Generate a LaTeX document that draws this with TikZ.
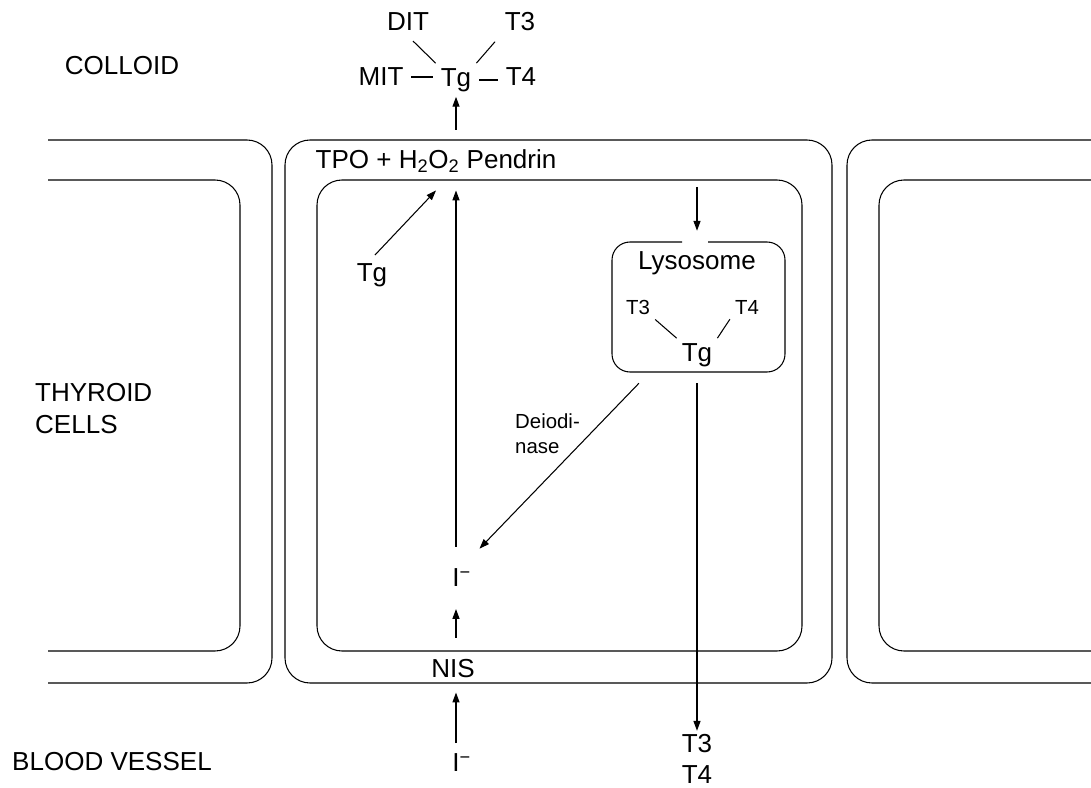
\documentclass[tikz,border=0pt]{standalone}
\usepackage{fontspec}
\setmainfont{Liberation Sans}
\usetikzlibrary{arrows.meta}

\begin{document}
\begin{tikzpicture}[x=0.025cm,y=-0.025cm,line width=0.75pt,
    big/.style={font=\fontsize{18.5}{22.8}\selectfont},
    small/.style={font=\fontsize{14.5}{17.8}\selectfont},
    arr/.style={-{Triangle[length=7pt,width=5pt]}},
    bond/.style={shorten <=2pt,shorten >=2pt},
    cell/.style={rounded corners=0.625cm}]
    \useasboundingbox (0,0) rectangle (1091,788);

%   cells
    \draw[cell] (48,140) -- (272,140) -- (272,683) -- (48,683);
    \draw[cell] (48,180) -- (240,180) -- (240,651) -- (48,651);
    \draw[cell] (285,140) rectangle (832,683);
    \draw[cell] (317,180) rectangle (802,651);
    \draw[cell] (1091,140) -- (847,140) -- (847,683) -- (1091,683);
    \draw[cell] (1091,180) -- (879,180) -- (879,651) -- (1091,651);
    \draw[rounded corners=0.45cm] (682,242) -- (612,242) -- (612,372) -- (785,372) -- (785,242) -- (708,242);
    \node[minimum width=4.325cm,minimum height=3.25cm,outer sep=8pt] (lyso) at (698.5,307) {};

    \node[big] (colloid) at (122,66) {COLLOID};
    \node[big,align=left,anchor=west] (cells) at (30,409) {THYROID\\CELLS};
    \node[big] (blood) at (112,762) {BLOOD VESSEL};

    \node[big] (dit) at (408,22) {DIT};
    \node[big] (tthree) at (520,22) {T3};
    \node[big] (mit) at (381,77) {MIT};
    \node[big] (tgc) at (456,80) {Tg};
    \node[big] (tfour) at (521,77) {T4};
    \draw[shorten <=5pt] (dit.south) -- (tgc.north west);
    \draw[shorten <=5pt] (tthree.south west) -- (tgc.north east);
    \draw[bond] (mit.east) -- (mit.east -| tgc.west);
    \draw[bond] (tgc.east) -- (tgc.east -| tfour.west);
    \coordinate (exo) at (456,130);
    \draw[arr] (exo) -- (exo |- tgc.south);

    \node[big] (tpo) at (436,161) {TPO + H\textsubscript{2}O\textsubscript{2} Pendrin};
    \coordinate (ox) at ([yshift=-9pt]tpo.south);
    \node[big] (tgl) at (372,275) {Tg};
    \draw[arr,shorten <=3pt] (tgl.north) -- (ox);

    \node[big] (lys) at (697,263) {Lysosome};
    \node[small] (lthree) at (638,307) {T3};
    \node[small] (lfour) at (747,307) {T4};
    \node[big] (ltg) at (697,355) {Tg};
    \draw (lthree.south east) -- (ltg.north west);
    \draw (lfour.south west) -- (ltg.north east);
    \coordinate (lysin) at (697,187);
    \draw[arr] (lysin) -- (lysin |- lyso.north);

    \node[small,align=left,anchor=west] (deio) at (510,434) {Deiodi-\\nase};
    \node[big] (iin) at (456,578) {I\rlap{\textsuperscript{−}}};
    \draw[arr,shorten >=15pt] (lyso.-128) -- (iin.north east);
    \draw[arr,shorten <=12pt] (iin.north) -- (iin.north |- ox);

    \node[big] (nis) at (453,669) {NIS};
    \draw[arr,shorten <=12pt,shorten >=12pt] (nis.north -| iin) -- (iin.south);
    \node[big] (iout) at (456,763) {I\rlap{\textsuperscript{−}}};
    \draw[arr,shorten <=4pt,shorten >=6.5pt] (iout.north) -- (iout.north |- nis.south);

    \node[font=\fontsize{18.5}{21.5}\selectfont,align=center,inner sep=1pt] (tout) at (697,759) {T3\\T4};
    \draw[arr,shorten >=1.5pt] (lyso.south -| lysin) -- (lysin |- tout.north);
\end{tikzpicture}
\end{document}
